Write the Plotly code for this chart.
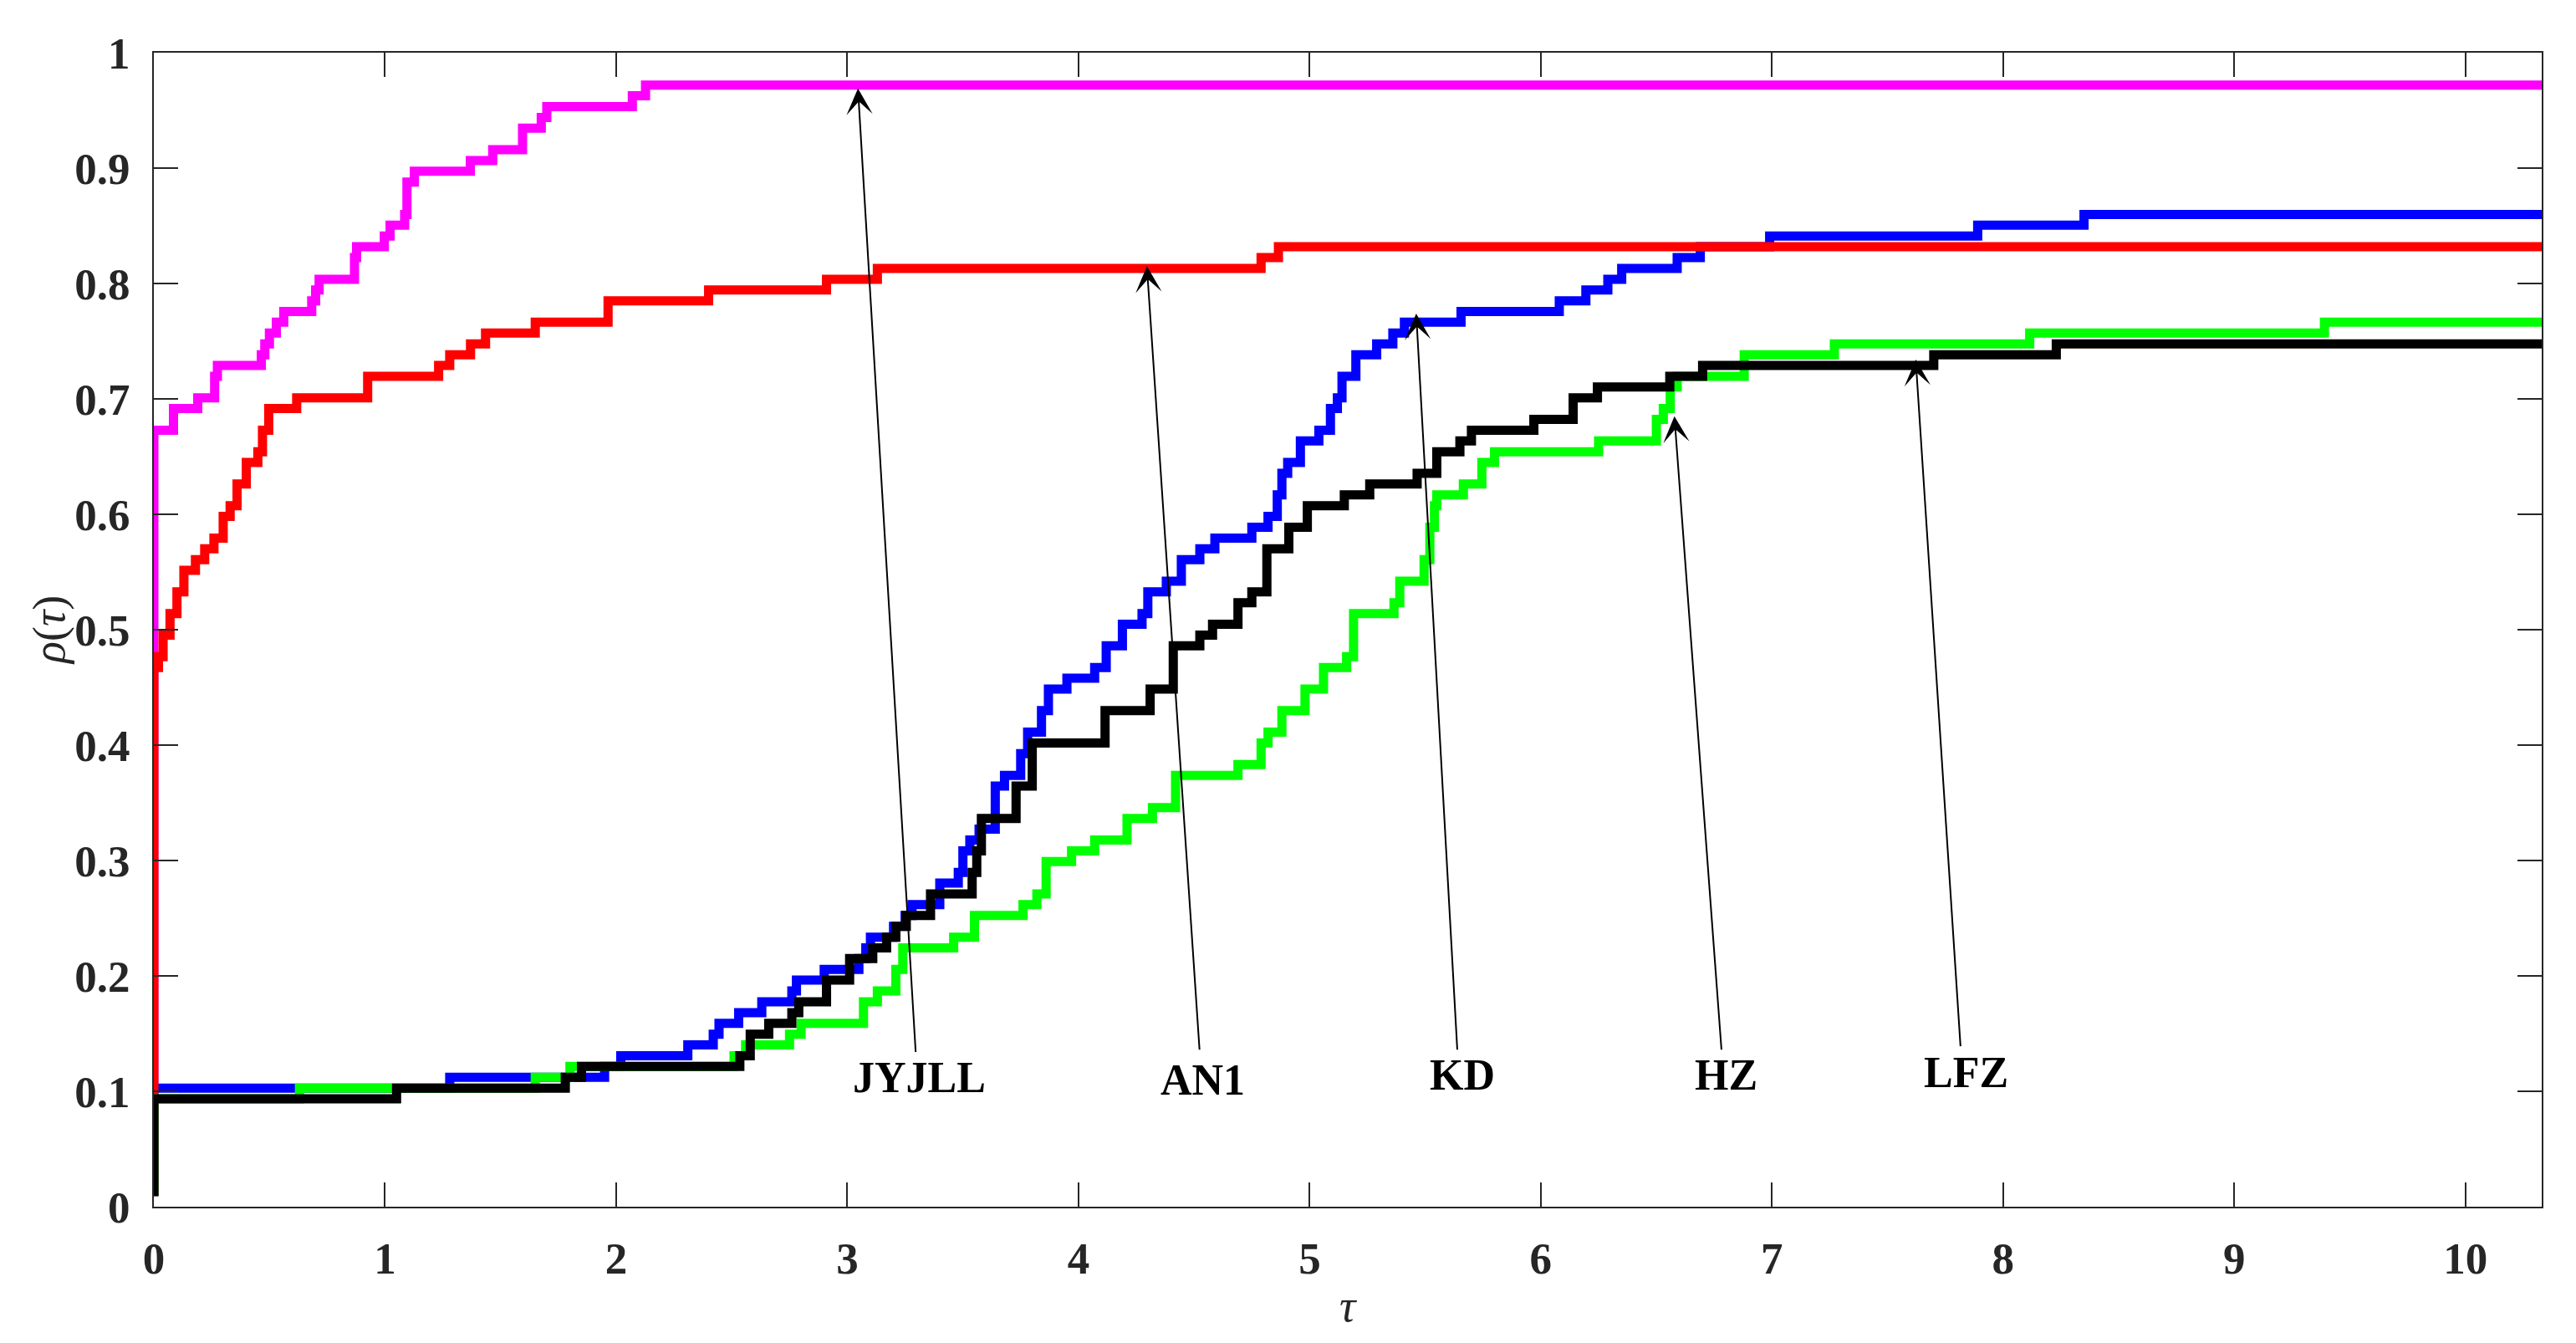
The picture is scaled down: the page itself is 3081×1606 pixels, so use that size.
import plotly.graph_objects as go

# performance profile data (tau, rho) -- drawn as stairs
jyjll_tau = [0, 0, 0.085, 0.19, 0.263, 0.275, 0.465, 0.48, 0.50, 0.53, 0.562, 0.683, 0.70, 0.715,
             0.868, 0.877, 0.997, 1.022, 1.085, 1.095, 1.127, 1.369, 1.466, 1.595, 1.676, 1.70,
             2.07, 2.127, 10.33]
jyjll_rho = [.0093, .6729, .6916, .7009, .7196, .7290, .7383, .7477, .7570, .7664, .7757, .7850, .7944, .8037,
             .8224, .8318, .8411, .8505, .8598, .8879, .8972, .9065, .9159, .9346, .9439, .9533,
             .9626, .9720, .9720]

an1_tau = [0, 0, 0.02, 0.04, 0.07, 0.10, 0.13, 0.18, 0.22, 0.26, 0.30, 0.33, 0.36, 0.40, 0.45, 0.47,
           0.497, 0.618, 0.925, 1.232, 1.28, 1.37, 1.435, 1.65, 1.965, 2.40, 2.91, 3.13, 4.79, 4.865, 10.33]
an1_rho = [.0093, .4673, .4766, .4953, .5140, .5327, .5514, .5607, .5701, .5794, .5981, .6075, .6262, .6449, .6542, .6729,
           .6916, .7009, .7196, .7290, .7383, .7477, .7570, .7664, .7850, .7944, .8037, .8131, .8224, .8318, .8318]

kd_tau = [0, 0, 1.28, 1.95, 2.02, 2.31, 2.42, 2.445, 2.53, 2.63, 2.76, 2.78, 2.90, 3.05, 3.08, 3.10, 3.20,
          3.25, 3.28, 3.40, 3.48, 3.50, 3.53, 3.57, 3.64, 3.68, 3.75, 3.78, 3.84, 3.87, 3.95, 4.07, 4.12,
          4.19, 4.275, 4.30, 4.38, 4.445, 4.525, 4.59, 4.75, 4.82, 4.86, 4.88, 4.905, 4.96, 5.04, 5.09,
          5.12, 5.14, 5.20, 5.29, 5.36, 5.41, 5.655, 6.08, 6.195, 6.29, 6.35, 6.59, 6.69, 6.99, 7.89, 8.35, 10.33]
kd_rho = [.0093, .1028, .1121, .1215, .1308, .1402, .1495, .1589, .1682, .1776, .1869, .1963, .2056, .2150, .2243, .2336, .2430,
          .2523, .2617, .2804, .2897, .3084, .3178, .3271, .3645, .3738, .3925, .4112, .4299, .4486, .4579, .4673, .4860,
          .5047, .5140, .5327, .5421, .5607, .5701, .5794, .5888, .5981, .6168, .6355, .6449, .6636, .6729, .6916,
          .7009, .7196, .7383, .7477, .7570, .7664, .7757, .7850, .7944, .8037, .8131, .8224, .8318, .8411, .8505, .8598, .8598]

hz_tau = [0, 0, 0.63, 1.65, 1.80, 2.51, 2.56, 2.75, 2.80, 3.07, 3.13, 3.21, 3.24, 3.46, 3.55, 3.76, 3.82,
          3.86, 3.97, 4.07, 4.21, 4.32, 4.42, 4.69, 4.79, 4.82, 4.88, 4.98, 5.06, 5.16, 5.19, 5.365, 5.39,
          5.495, 5.52, 5.54, 5.55, 5.665, 5.745, 5.80, 6.25, 6.50, 6.53, 6.56, 6.59, 6.88, 7.27, 8.115, 9.39, 10.33]
hz_rho = [.0093, .0935, .1028, .1121, .1215, .1308, .1402, .1495, .1589, .1776, .1869, .2056, .2243, .2336, .2523, .2617, .2710,
          .2991, .3084, .3178, .3364, .3458, .3738, .3832, .4019, .4112, .4299, .4486, .4673, .4766, .5140, .5234, .5421,
          .5607, .5888, .6075, .6168, .6262, .6449, .6542, .6636, .6822, .6916, .7103, .7196, .7383, .7477, .7570, .7664, .7664]

lfz_tau = [0, 0, 1.05, 1.78, 1.85, 2.535, 2.58, 2.66, 2.76, 2.79, 2.91, 3.01, 3.11, 3.17, 3.21, 3.255, 3.36,
           3.54, 3.56, 3.58, 3.73, 3.80, 4.115, 4.31, 4.41, 4.525, 4.58, 4.69, 4.75, 4.815, 4.91, 4.99, 5.15,
           5.26, 5.465, 5.55, 5.65, 5.70, 5.97, 6.14, 6.245, 6.558, 6.70, 7.70, 8.23, 10.33]
lfz_rho = [.0093, .0935, .1028, .1121, .1215, .1308, .1495, .1589, .1682, .1776, .1963, .2150, .2243, .2336, .2430, .2523, .2710,
           .2897, .3084, .3364, .3645, .4019, .4299, .4486, .4860, .4953, .5047, .5234, .5327, .5701, .5888, .6075, .6168,
           .6262, .6355, .6542, .6636, .6729, .6822, .7009, .7103, .7196, .7290, .7383, .7477, .7477]

# arrow labels
labels = ["JYJLL", "AN1", "KD", "HZ", "LFZ"]
head_tau = [3.046, 4.296, 5.461, 6.578, 7.622]
head_rho = [0.969, 0.815, 0.774, 0.685, 0.734]
tail_tau = [3.296, 4.524, 5.639, 6.782, 7.816]
tail_rho = [0.133, 0.135, 0.135, 0.135, 0.138]
text_tau = [3.31, 4.537, 5.662, 6.80, 7.84]
text_rho = [0.112, 0.110, 0.114, 0.114, 0.116]

FONT = "Liberation Serif"
AXC = "#262626"

# drawing order matters (later on top)
series = [
    ("JYJLL", jyjll_tau, jyjll_rho, "#FF00FF"),
    ("KD", kd_tau, kd_rho, "#0000FF"),
    ("AN1", an1_tau, an1_rho, "#FF0000"),
    ("HZ", hz_tau, hz_rho, "#00FF00"),
    ("LFZ", lfz_tau, lfz_rho, "#000000"),
]

fig = go.Figure()
for name, t, r, col in series:
    fig.add_trace(go.Scatter(x=t, y=r, mode="lines", name=name,
                             line=dict(color=col, width=11, shape="hv")))

annotations = []
for lab, hx, hy, tx, ty, lx, ly in zip(labels, head_tau, head_rho, tail_tau, tail_rho, text_tau, text_rho):
    annotations.append(dict(x=hx, y=hy, ax=tx, ay=ty, xref="x", yref="y", axref="x", ayref="y",
                            text="", showarrow=True, arrowhead=3, arrowsize=2.6, arrowwidth=2,
                            arrowcolor="black", standoff=0, startstandoff=0))
    annotations.append(dict(x=lx, y=ly, xref="x", yref="y", text=lab, showarrow=False,
                            font=dict(family=FONT, size=52, color="black", weight="bold")))

# axis titles (placed by hand, MATLAB style)
annotations.append(dict(x=-0.0438, y=0.5, xref="paper", yref="paper", text="<i>ρ</i>(<i>τ</i>)",
                        textangle=-90, showarrow=False, xanchor="center", yanchor="middle",
                        font=dict(family=FONT, size=54, color=AXC)))
annotations.append(dict(x=0.5, y=-0.086, xref="paper", yref="paper", text="<i>τ</i>",
                        showarrow=False, xanchor="center", yanchor="middle",
                        font=dict(family=FONT, size=54, color=AXC)))

axis_common = dict(showline=True, linecolor=AXC, linewidth=2, mirror="ticks",
                   ticks="inside", ticklen=29, tickwidth=2, tickcolor=AXC,
                   showgrid=False, zeroline=False, automargin=False,
                   tickfont=dict(family=FONT, size=53, color=AXC, weight="bold"))

# page body has an 8px margin, so the figure is a bit smaller than the window
fig.update_layout(
    width=3065, height=1590,
    margin=dict(l=176, r=33, t=55, b=155),
    paper_bgcolor="white", plot_bgcolor="white",
    showlegend=False,
    annotations=annotations,
    xaxis=dict(range=[0, 10.33], tickvals=list(range(11)), ticklabelstandoff=14, **axis_common),
    yaxis=dict(range=[0, 1], dtick=0.1, ticklabelstandoff=16, **axis_common),
)

fig.write_html("out.html")
